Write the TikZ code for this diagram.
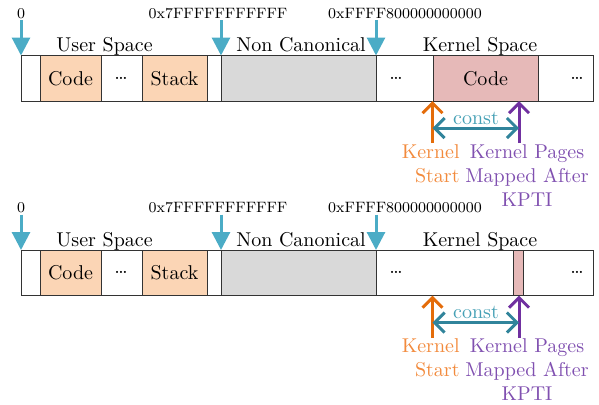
\documentclass[tikz,border=0pt]{standalone}
\usetikzlibrary{arrows.meta}
\definecolor{peach}{HTML}{FBD5B5}
\definecolor{kcode}{HTML}{E6B9B8}
\definecolor{ncgray}{HTML}{D9D9D9}
\definecolor{addrblue}{HTML}{4BACC6}
\definecolor{korange}{HTML}{E46C0A}
\definecolor{korangetxt}{HTML}{F28A3C}
\definecolor{kpurple}{HTML}{7030A0}
\definecolor{kpurpletxt}{HTML}{8050B0}
\definecolor{kteal}{HTML}{31849B}
\definecolor{ktealtxt}{HTML}{45A0B5}
\newcommand\memrow[4]{%
  % #1 prefix, #2 kernel code left (px), #3 width (pt), #4 kernel code text
  \node[bar, minimum width=286pt] (#1bar) at (21,55.5) {};
  \node[seg, fill=peach, minimum width=30.5pt] (#1ucode) at (40,55.5) {Code};
  \node[dotsl] (#1udots) at (121,78.25) {\dots};
  \node[seg, fill=peach, minimum width=32.5pt] (#1stack) at (142,55.5) {Stack};
  \node[seg, fill=ncgray, minimum width=77.5pt] (#1nc) at (221,55.5) {};
  \node[seg, fill=kcode, minimum width=#3] (#1kcode) at (#2,55.5) {#4};
  \node[dotsl] (#1kdots) at (396,78.25) {\dots};
  \node[dotsl] (#1rdots) at (577,78.25) {\dots};
  \node[reglbl] (#1ulbl) at (104.5,51.5) {User Space};
  \node[reglbl] (#1nclbl) at (301,51.5) {Non Canonical};
  \node[reglbl] (#1klbl) at (480,51.5) {Kernel Space};
  \node[addrlbl] (#1a0) at (21,18) {0};
  \node[addrlbl] (#1a1) at (218,18) {0x7FFFFFFFFFFF};
  \node[addrlbl] (#1a2) at (405,18) {0xFFFF800000000000};
  \coordinate (#1s0) at (21,20);
  \coordinate (#1s1) at (221,20);
  \coordinate (#1s2) at (376,20);
  \draw[addr] (#1s0) -- (#1bar.north west);
  \draw[addr] (#1s1) -- (#1nc.north west);
  \draw[addr] (#1s2) -- (#1nc.north east);
  \coordinate (#1ks) at (432.5,143);
  \coordinate (#1ps) at (519,143);
  \coordinate (#1ca) at (432.5,128);
  \coordinate (#1cb) at (519,128);
  \draw[kstart] (#1ks) -- (#1ks |- #1bar.south);
  \draw[kpages] (#1ps) -- (#1ps |- #1bar.south);
  \draw[constarr] (#1ca) -- (#1cb);
  \node[text=ktealtxt] (#1const) at (476,118) {const};
  \node[align=right, inner sep=0, anchor=north east, text=korangetxt] (#1kst) at (460,144) {Kernel\\Start};
  \node[align=center, inner sep=0, anchor=north, text=kpurpletxt] (#1kpg) at (527,144) {Kernel Pages\\Mapped After\\KPTI};
}
\begin{document}
\begin{tikzpicture}[x=0.5pt,y=-0.5pt,
  bar/.style={draw=black!80, line width=0.5pt, fill=white, minimum height=22.75pt, inner sep=0, outer sep=0, anchor=north west},
  seg/.style={bar},
  dotsl/.style={inner sep=0},
  reglbl/.style={anchor=base, inner sep=0},
  addrlbl/.style={anchor=base, inner sep=0, font=\fontsize{7.5}{9}\selectfont},
  addr/.style={draw=addrblue, line width=1.5pt, -{Triangle[length=9pt,width=9pt]}},
  kstart/.style={draw=korange, line width=1.5pt, -{Straight Barb[length=5pt,width=10pt]}},
  kpages/.style={draw=kpurple, line width=1.5pt, -{Straight Barb[length=5pt,width=10pt]}},
  constarr/.style={draw=kteal, line width=1.5pt, {Straight Barb[length=5pt,width=10pt]}-{Straight Barb[length=5pt,width=10pt]}}
]
\useasboundingbox (0,0) rectangle (599,404);
\memrow{t}{433}{52.5pt}{Code}
\begin{scope}[yshift=-97.25pt]
\memrow{b}{513}{5pt}{}
\end{scope}
\end{tikzpicture}
\end{document}
